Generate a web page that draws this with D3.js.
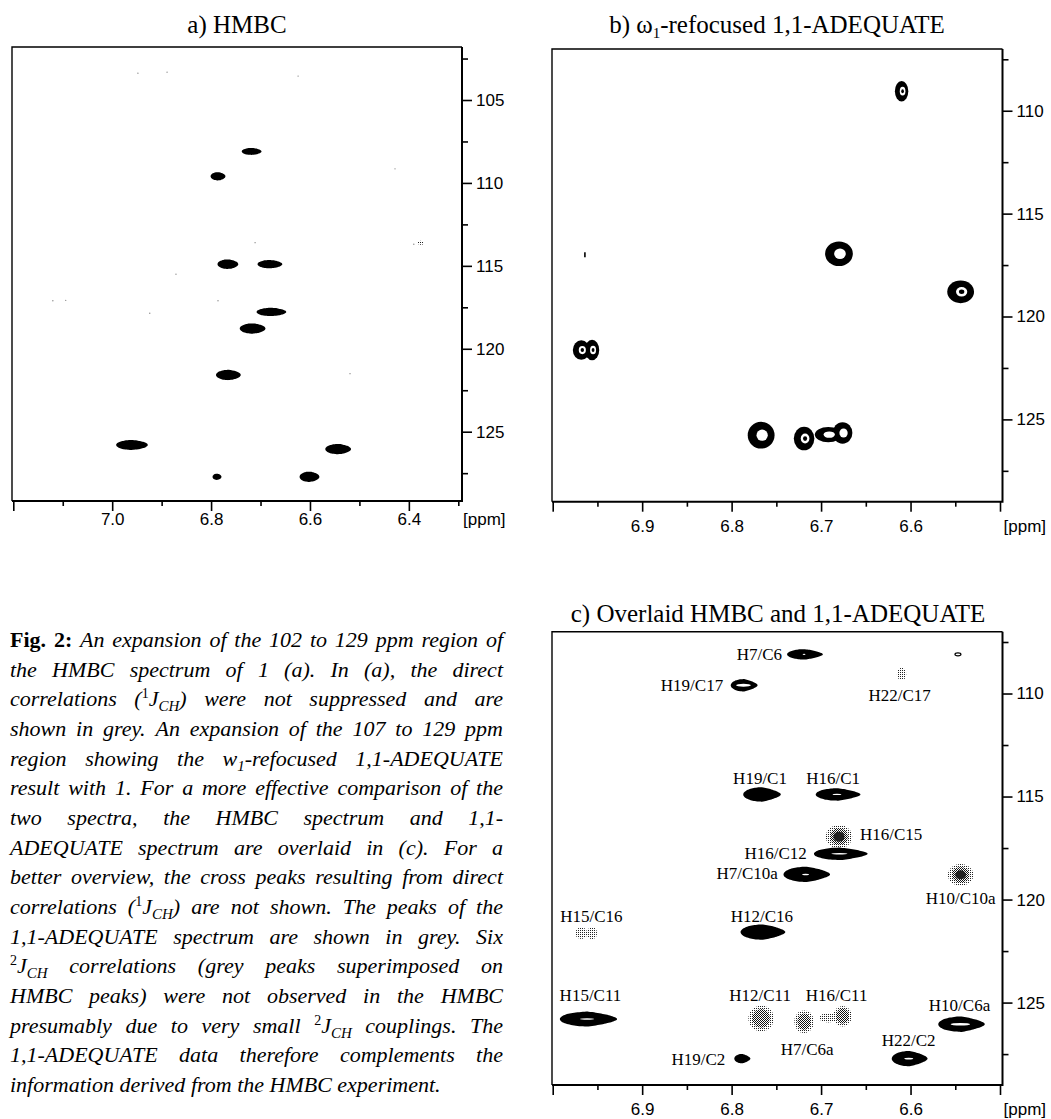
<!DOCTYPE html>
<html><head><meta charset="utf-8">
<script src="https://cdn.jsdelivr.net/npm/d3@7"></script>
<style>body{margin:0;background:#fff}svg{display:block}</style>
</head><body>
<svg id="fig" width="1051" height="1119"></svg>
<script>
// ---------------- DATA ----------------
// HMBC cross peaks (1H ppm, 13C ppm, linewidths in ppm)
const hmbcIds    = ["H7/C6","H19/C17","H19/C1","H16/C1","H16/C12","H7/C10a","H12/C16","H15/C11","H10/C6a","H19/C2","H22/C2"];
const hmbcH      = [6.718, 6.786, 6.766, 6.681, 6.678, 6.716, 6.765, 6.960, 6.543, 6.788, 6.601];
const hmbcC      = [108.10, 109.60, 114.90, 114.90, 117.78, 118.78, 121.58, 125.80, 126.05, 127.72, 127.72];
const hmbcWidthH = [0.040, 0.030, 0.042, 0.050, 0.060, 0.052, 0.050, 0.064, 0.052, 0.018, 0.040];
const hmbcWidthC = [0.42, 0.50, 0.58, 0.50, 0.50, 0.62, 0.62, 0.60, 0.62, 0.38, 0.62];
const hmbcCore   = [0.08, 0.55, 0, 0.2, 0.3, 0.15, 0, 0.25, 0.42, 0, 0.25];

// direct (1J_CH) correlation and weak specks seen in the HMBC expansion
const hmbcDirectH = [6.376];
const hmbcDirectC = [113.61];
const hmbcSpeckH  = [6.948, 6.889, 6.624, 6.428, 6.711, 6.871, 7.120, 7.094, 6.924, 6.786, 6.519, 6.390];
const hmbcSpeckC  = [103.38, 103.32, 103.56, 109.15, 113.60, 115.50, 117.10, 117.08, 117.86, 117.10, 121.50, 113.70];

// 1,1-ADEQUATE peaks
const adqIds    = ["H22/C17","H16/C15","H10/C10a","H15/C16","H15/C16","H12/C11","H7/C6a","H16/C11","H16/C11"];
const adqH      = [6.610, 6.680, 6.544, 6.968, 6.956, 6.767, 6.719, 6.676, 6.692];
const adqC      = [109.05, 116.95, 118.80, 121.63, 121.63, 125.77, 125.93, 125.66, 125.74];
const adqWidthH = [0.015, 0.031, 0.030, 0.019, 0.016, 0.030, 0.023, 0.022, 0.030];
const adqWidthC = [1.00, 1.20, 1.10, 0.95, 1.00, 1.30, 1.15, 1.05, 0.75];
const adqLevels = [3, 2, 3, 3, 3, 2, 3, 2, 2];
const adqGrey   = [1, 3, 3, 1, 1, 2, 2, 2, 1];

// small artefacts
const artB = [[6.964, 117.0]];
const artC = [[6.547, 108.1]];

// axis ticks
const ticksA_H_major = [7.2, 7.0, 6.8, 6.6, 6.4];
const ticksA_H_minor = [7.1, 6.9, 6.7, 6.5, 6.3];
const ticksA_H_label = [7.0, 6.8, 6.6, 6.4];
const ticksA_C_major = [105, 110, 115, 120, 125];
const ticksA_C_minor = [102.5, 107.5, 112.5, 117.5, 122.5, 127.5];
const ticksB_H_major = [7.0, 6.9, 6.8, 6.7, 6.6, 6.5];
const ticksB_H_minor = [6.95, 6.85, 6.75, 6.65, 6.55];
const ticksB_H_label = [6.9, 6.8, 6.7, 6.6];
const ticksB_C_major = [110, 115, 120, 125];
const ticksB_C_minor = [107.5, 112.5, 117.5, 122.5, 127.5];

const titles = ["a) HMBC", "b) ω|1|-refocused 1,1-ADEQUATE", "c) Overlaid HMBC and 1,1-ADEQUATE"];

const captionLines = [
 "**Fig.** **2:** An expansion of the 102 to 129 ppm region of",
 "the HMBC spectrum of 1 (a). In (a), the direct",
 "correlations (^{1}J_{CH}) were not suppressed and are",
 "shown in grey. An expansion of the 107 to 129 ppm",
 "region showing the w_{1}-refocused 1,1-ADEQUATE",
 "result with 1. For a more effective comparison of the",
 "two spectra, the HMBC spectrum and 1,1-",
 "ADEQUATE spectrum are overlaid in (c). For a",
 "better overview, the cross peaks resulting from direct",
 "correlations (^{1}J_{CH}) are not shown. The peaks of the",
 "1,1-ADEQUATE spectrum are shown in grey. Six",
 "^{2}J_{CH} correlations (grey peaks superimposed on",
 "HMBC peaks) were not observed in the HMBC",
 "presumably due to very small ^{2}J_{CH} couplings. The",
 "1,1-ADEQUATE data therefore complements the",
 "information derived from the HMBC experiment."
];

// ---------------- LAYOUT ----------------
const labelOffsetC = {
 "H7/C6":[-23,6,"end"], "H19/C17":[-21,6,"end"], "H22/C17":[-2,27,"middle"],
 "H19/C1":[-2,-10,"middle"], "H16/C1":[-5,-10,"middle"], "H16/C15":[21,3,"start"],
 "H16/C12":[-34,5,"end"], "H7/C10a":[-29,5,"end"], "H10/C10a":[0,29,"middle"],
 "H15/C16":[10,-11,"middle"], "H12/C16":[-1,-10,"middle"], "H15/C11":[2,-18,"middle"],
 "H12/C11":[-1,-17,"middle"], "H7/C6a":[3,33,"middle"], "H16/C11":[-6,-15,"middle"],
 "H10/C6a":[-2,-13,"middle"], "H22/C2":[-1,-13,"middle"], "H19/C2":[-17,6,"end"]
};

const SANS = "'Liberation Sans', Arial, sans-serif";
const SERIF = "'Liberation Serif', 'Times New Roman', serif";

const svg = d3.select("#fig");
const defs = svg.append("defs");
// stipple patterns for grey (halftone) peaks
const p1 = defs.append("pattern").attr("id","st1").attr("width",2).attr("height",2).attr("patternUnits","userSpaceOnUse");
p1.append("rect").attr("width",1).attr("height",1).attr("fill","#222");
const p2 = defs.append("pattern").attr("id","st2").attr("width",2).attr("height",2).attr("patternUnits","userSpaceOnUse");
p2.append("rect").attr("width",1).attr("height",1).attr("fill","#111");
p2.append("rect").attr("x",1).attr("y",1).attr("width",1).attr("height",1).attr("fill","#111");

const xA = d3.scaleLinear().domain([7.2, 6.3]).range([13.3, 458.3]);
const yA = d3.scaleLinear().domain([105, 125]).range([100, 431.7]);
const xB = d3.scaleLinear().domain([7.0, 6.5]).range([552.7, 1000]);
const yB = d3.scaleLinear().domain([107, 129]).range([49, 501.7]);
const yC = d3.scaleLinear().domain([107, 129]).range([631.7, 1085]);

const frames = {
  a: {x0:12, x1:462, y0:47, y1:501},
  b: {x0:552, x1:1002.5, y0:49, y1:501.7},
  c: {x0:552, x1:1002.5, y0:631.7, y1:1085}
};

function drawFrame(f, x, y, hMaj, hMin, hLab, cMaj, cMin, pad) {
  const g = svg.append("g");
  g.append("path").attr("d", `M${f.x0},${f.y1}V${f.y0}H${f.x1}`)
    .attr("fill","none").attr("stroke","#000").attr("stroke-width",1.4);
  g.append("path").attr("d", `M${f.x0},${f.y1}H${f.x1}V${f.y0}`)
    .attr("fill","none").attr("stroke","#000").attr("stroke-width",2);
  const fmt = d3.format(".1f");
  const bMaj = g.append("g").attr("transform",`translate(0,${f.y1})`)
    .call(d3.axisBottom(x).tickValues(hMaj).tickSize(10).tickPadding(pad)
      .tickFormat(d => hLab.some(v => Math.abs(v-d) < 1e-6) ? fmt(d) : ""));
  const bMin = g.append("g").attr("transform",`translate(0,${f.y1})`)
    .call(d3.axisBottom(x).tickValues(hMin).tickSize(5).tickFormat(""));
  const rMaj = g.append("g").attr("transform",`translate(${f.x1},0)`)
    .call(d3.axisRight(y).tickValues(cMaj).tickSize(10).tickPadding(4).tickFormat(d3.format("d")));
  const rMin = g.append("g").attr("transform",`translate(${f.x1},0)`)
    .call(d3.axisRight(y).tickValues(cMin).tickSize(6).tickFormat(""));
  [bMaj,bMin,rMaj,rMin].forEach(a => {
    a.select(".domain").remove();
    a.selectAll("line").attr("stroke","#000").attr("stroke-width",1.6);
    a.attr("font-family", SANS).attr("font-size", 17);
    a.selectAll("text").attr("fill","#000");
  });
  g.append("text").attr("x", f.x1 + 1).attr("y", f.y1 + 10 + pad).attr("dy","0.71em")
    .attr("font-family", SANS).attr("font-size", 17).text("[ppm]");
  return g;
}

function title(str, cx, by) {
  const t = svg.append("text").attr("x", cx).attr("y", by).attr("text-anchor","middle")
    .attr("font-family", SERIF).attr("font-size", 25);
  str.split("|").forEach((s, i) => {
    const sp = t.append("tspan").text(s);
    if (i === 1) sp.attr("font-size", 15).attr("dy", 5);
    if (i === 2) sp.attr("dy", -5);
  });
}

function blob(cx, cy, rx, ry, taper) {
  const pts = d3.range(48).map(i => {
    const t = i / 48 * 2 * Math.PI, ct = Math.cos(t);
    return [cx + rx * ct, cy + ry * Math.sin(t) * (1 - taper * Math.max(0, ct))];
  });
  return d3.line().curve(d3.curveCardinalClosed)(pts);
}

const hmbc = hmbcIds.map((id, i) => ({id, h: hmbcH[i], c: hmbcC[i], wh: hmbcWidthH[i], wc: hmbcWidthC[i], core: hmbcCore[i]}));
const adq = adqIds.map((id, i) => ({id, h: adqH[i], c: adqC[i], wh: adqWidthH[i], wc: adqWidthC[i], lev: adqLevels[i], grey: adqGrey[i], first: adqIds.indexOf(id) === i}));

// clip paths
Object.entries(frames).forEach(([k, f]) => {
  defs.append("clipPath").attr("id", "clip" + k).append("rect")
    .attr("x", f.x0).attr("y", f.y0).attr("width", f.x1 - f.x0).attr("height", f.y1 - f.y0);
});

// ---------------- PANEL A ----------------
drawFrame(frames.a, xA, yA, ticksA_H_major, ticksA_H_minor, ticksA_H_label, ticksA_C_major, ticksA_C_minor, 2);
title(titles[0], 237, 33);
const ga = svg.append("g").attr("clip-path", "url(#clipa)");
ga.selectAll(".speck").data(hmbcSpeckH.map((h, i) => [h, hmbcSpeckC[i]])).join("circle")
  .attr("cx", d => xA(d[0])).attr("cy", d => yA(d[1])).attr("r", 0.7).attr("fill", "#888");
ga.selectAll(".direct").data(hmbcDirectH.map((h, i) => [h, hmbcDirectC[i]])).join("ellipse")
  .attr("cx", d => xA(d[0])).attr("cy", d => yA(d[1])).attr("rx", 3).attr("ry", 2).attr("fill", "url(#st1)");
ga.selectAll(".pk").data(hmbc).join("path")
  .attr("d", d => blob(xA(d.h), yA(d.c), Math.abs(xA(d.h + d.wh / 2) - xA(d.h)), Math.abs(yA(d.c + d.wc / 2) - yA(d.c)), 0.15))
  .attr("fill", "#000");

// ---------------- PANEL B ----------------
drawFrame(frames.b, xB, yB, ticksB_H_major, ticksB_H_minor, ticksB_H_label, ticksB_C_major, ticksB_C_minor, 8);
title(titles[1], 777, 33);
const gb = svg.append("g").attr("clip-path", "url(#clipb)");
const scalesB = [1, 0.42, 0.2];
const fillsB = ["#000", "#fff", "#000"];
[0, 1, 2].forEach(k => {
  gb.selectAll(".lv" + k).data(adq.filter(d => d.lev > k)).join("ellipse")
    .attr("cx", d => xB(d.h) + (k ? 1 : 0)).attr("cy", d => yB(d.c))
    .attr("rx", d => Math.abs(xB(d.h + d.wh / 2) - xB(d.h)) * scalesB[k])
    .attr("ry", d => Math.abs(yB(d.c + d.wc / 2) - yB(d.c)) * scalesB[k])
    .attr("fill", fillsB[k]);
});
gb.selectAll(".art").data(artB).join("rect")
  .attr("x", d => xB(d[0]) - 0.8).attr("y", d => yB(d[1]) - 2.5).attr("width", 1.6).attr("height", 5).attr("fill", "#000");

// ---------------- PANEL C ----------------
drawFrame(frames.c, xB, yC, ticksB_H_major, ticksB_H_minor, ticksB_H_label, ticksB_C_major, ticksB_C_minor, 8);
title(titles[2], 778, 622);
const gc = svg.append("g").attr("clip-path", "url(#clipc)");
const rxB = d => Math.abs(xB(d.h + d.wh / 2) - xB(d.h));
const ryC = d => Math.abs(yC(d.c + d.wc / 2) - yC(d.c));
// grey (ADEQUATE) halftone peaks
gc.selectAll(".g1").data(adq).join("ellipse")
  .attr("cx", d => xB(d.h)).attr("cy", d => yC(d.c))
  .attr("rx", d => rxB(d) * (d.grey === 1 ? 0.7 : 0.95)).attr("ry", d => ryC(d) * (d.grey === 1 ? 0.6 : 0.95))
  .attr("fill", "url(#st1)");
gc.selectAll(".g2").data(adq.filter(d => d.grey > 1)).join("ellipse")
  .attr("cx", d => xB(d.h)).attr("cy", d => yC(d.c))
  .attr("rx", d => rxB(d) * 0.65).attr("ry", d => ryC(d) * 0.7)
  .attr("fill", "url(#st2)");
gc.selectAll(".g3").data(adq.filter(d => d.grey > 2)).join("ellipse")
  .attr("cx", d => xB(d.h)).attr("cy", d => yC(d.c))
  .attr("rx", d => rxB(d) * 0.4).attr("ry", d => ryC(d) * 0.4)
  .attr("fill", "#222");
// black (HMBC) peaks
gc.selectAll(".pk").data(hmbc).join("path")
  .attr("d", d => blob(xB(d.h), yC(d.c), rxB(d), ryC(d) * 1.2, 0.4)).attr("fill", "#000");
gc.selectAll(".core").data(hmbc.filter(d => d.core > 0)).join("ellipse")
  .attr("cx", d => xB(d.h) - rxB(d) * 0.05).attr("cy", d => yC(d.c))
  .attr("rx", d => rxB(d) * d.core).attr("ry", d => ryC(d) * Math.max(0.12, d.core * 0.5))
  .attr("fill", "#fff");
gc.selectAll(".art").data(artC).join("ellipse")
  .attr("cx", d => xB(d[0])).attr("cy", d => yC(d[1])).attr("rx", 3).attr("ry", 1.5)
  .attr("fill", "#fff").attr("stroke", "#000").attr("stroke-width", 1.2);
// labels
const labelled = hmbc.map(d => ({id: d.id, x: xB(d.h), y: yC(d.c)}))
  .concat(adq.filter(d => d.first).map(d => ({id: d.id, x: xB(d.h), y: yC(d.c)})));
svg.append("g").selectAll("text").data(labelled.filter(d => labelOffsetC[d.id])).join("text")
  .attr("x", d => d.x + labelOffsetC[d.id][0]).attr("y", d => d.y + labelOffsetC[d.id][1])
  .attr("text-anchor", d => labelOffsetC[d.id][2])
  .attr("font-family", SERIF).attr("font-size", 17).attr("fill", "#000")
  .text(d => d.id);

// ---------------- CAPTION ----------------
const capX0 = 10, capX1 = 503, capY0 = 647, capLH = 29.67, capFS = 22;
const capG = svg.append("g").attr("font-family", SERIF).attr("font-size", capFS).attr("font-style", "italic");
function parseWord(w) {
  const re = /\*\*(.+?)\*\*|\^\{(.+?)\}|_\{(.+?)\}|([^*^_]+)/g;
  const segs = []; let m;
  while ((m = re.exec(w)) !== null) {
    if (m[1]) segs.push({t: m[1], s: "b"});
    else if (m[2]) segs.push({t: m[2], s: "sup"});
    else if (m[3]) segs.push({t: m[3], s: "sub"});
    else segs.push({t: m[4], s: ""});
  }
  return segs;
}
const spaceW = (() => { const t = capG.append("text").text("a a"); const w1 = t.node().getComputedTextLength(); t.text("aa"); const w2 = t.node().getComputedTextLength(); t.remove(); return w1 - w2; })();
captionLines.forEach((line, li) => {
  const y = capY0 + li * capLH;
  const words = line.split(" ");
  const nodes = words.map(w => {
    const t = capG.append("text").attr("y", y);
    let cur = 0;
    parseWord(w).forEach(seg => {
      const sp = t.append("tspan").text(seg.t);
      let shift = 0;
      if (seg.s === "b") sp.attr("font-weight", "bold").attr("font-style", "normal");
      if (seg.s === "sup") { sp.attr("font-size", 14).attr("font-style", "normal"); shift = -8; }
      if (seg.s === "sub") { sp.attr("font-size", 15); shift = 5; }
      if (shift !== cur) { sp.attr("dy", shift - cur); cur = shift; }
    });
    return t;
  });
  const widths = nodes.map(n => n.node().getComputedTextLength());
  const total = d3.sum(widths);
  const last = li === captionLines.length - 1;
  const gap = (last || words.length < 2) ? spaceW : (capX1 - capX0 - total) / (words.length - 1);
  let x = capX0;
  nodes.forEach((n, i) => { n.attr("x", x); x += widths[i] + gap; });
});
</script>
</body></html>
